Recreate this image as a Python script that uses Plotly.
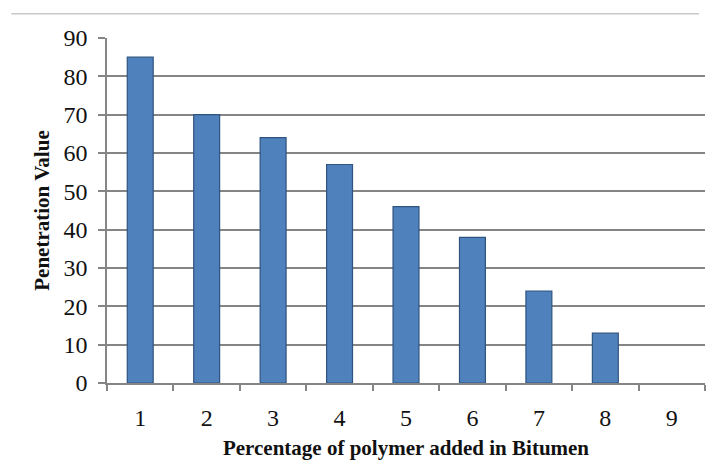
import plotly.graph_objects as go

# Penetration value measured at each polymer dosage (% by weight of bitumen)
polymer_pct = ["1", "2", "3", "4", "5", "6", "7", "8", "9"]
penetration = [85, 70, 64, 57, 46, 38, 24, 13, 0]
y_ticks = [0, 10, 20, 30, 40, 50, 60, 70, 80, 90]

SERIF = "Liberation Serif, Times New Roman, serif"
GRID = "#858585"

# no outline on empty bars so a zero value leaves nothing on the baseline
outline_widths = [1.2 if v > 0 else 0 for v in penetration]

fig = go.Figure(
    go.Bar(
        x=polymer_pct,
        y=penetration,
        width=0.39,
        marker=dict(color="#4f81bd", line=dict(color="#2f5480", width=outline_widths)),
        hoverinfo="x+y",
    )
)

fig.update_layout(
    width=710,
    height=460,
    margin=dict(l=107, r=5, t=38, b=77),
    paper_bgcolor="white",
    plot_bgcolor="white",
    showlegend=False,
    font=dict(family=SERIF, color="#111111"),
    shapes=[
        # thin rule across the top of the figure frame
        dict(type="line", xref="paper", yref="paper",
             x0=-0.16, x1=0.99, y0=1.07, y1=1.07,
             line=dict(color="#c8c8c8", width=1.5)),
    ],
)

fig.update_xaxes(
    type="category",
    automargin=False,
    showline=True,
    linecolor=GRID,
    linewidth=1.5,
    ticks="outside",
    tickson="boundaries",
    ticklen=6,
    tickcolor=GRID,
    tickwidth=1.5,
    showgrid=False,
    tickfont=dict(size=24, family=SERIF),
    ticklabelstandoff=12,
    title=dict(text="<b>Percentage of polymer added in Bitumen</b>",
               font=dict(size=21, family=SERIF), standoff=14),
)

fig.update_yaxes(
    range=[0, 90],
    automargin=False,
    tickvals=y_ticks,
    showline=True,
    linecolor=GRID,
    linewidth=1.5,
    ticks="outside",
    ticklen=7,
    tickcolor=GRID,
    tickwidth=1.5,
    showgrid=True,
    gridcolor=GRID,
    gridwidth=1.5,
    zeroline=False,
    tickfont=dict(size=24, family=SERIF),
    ticklabelstandoff=6,
    title=dict(text="<b>Penetration Value</b>",
               font=dict(size=21, family=SERIF), standoff=8),
)

fig.write_html("out.html")
